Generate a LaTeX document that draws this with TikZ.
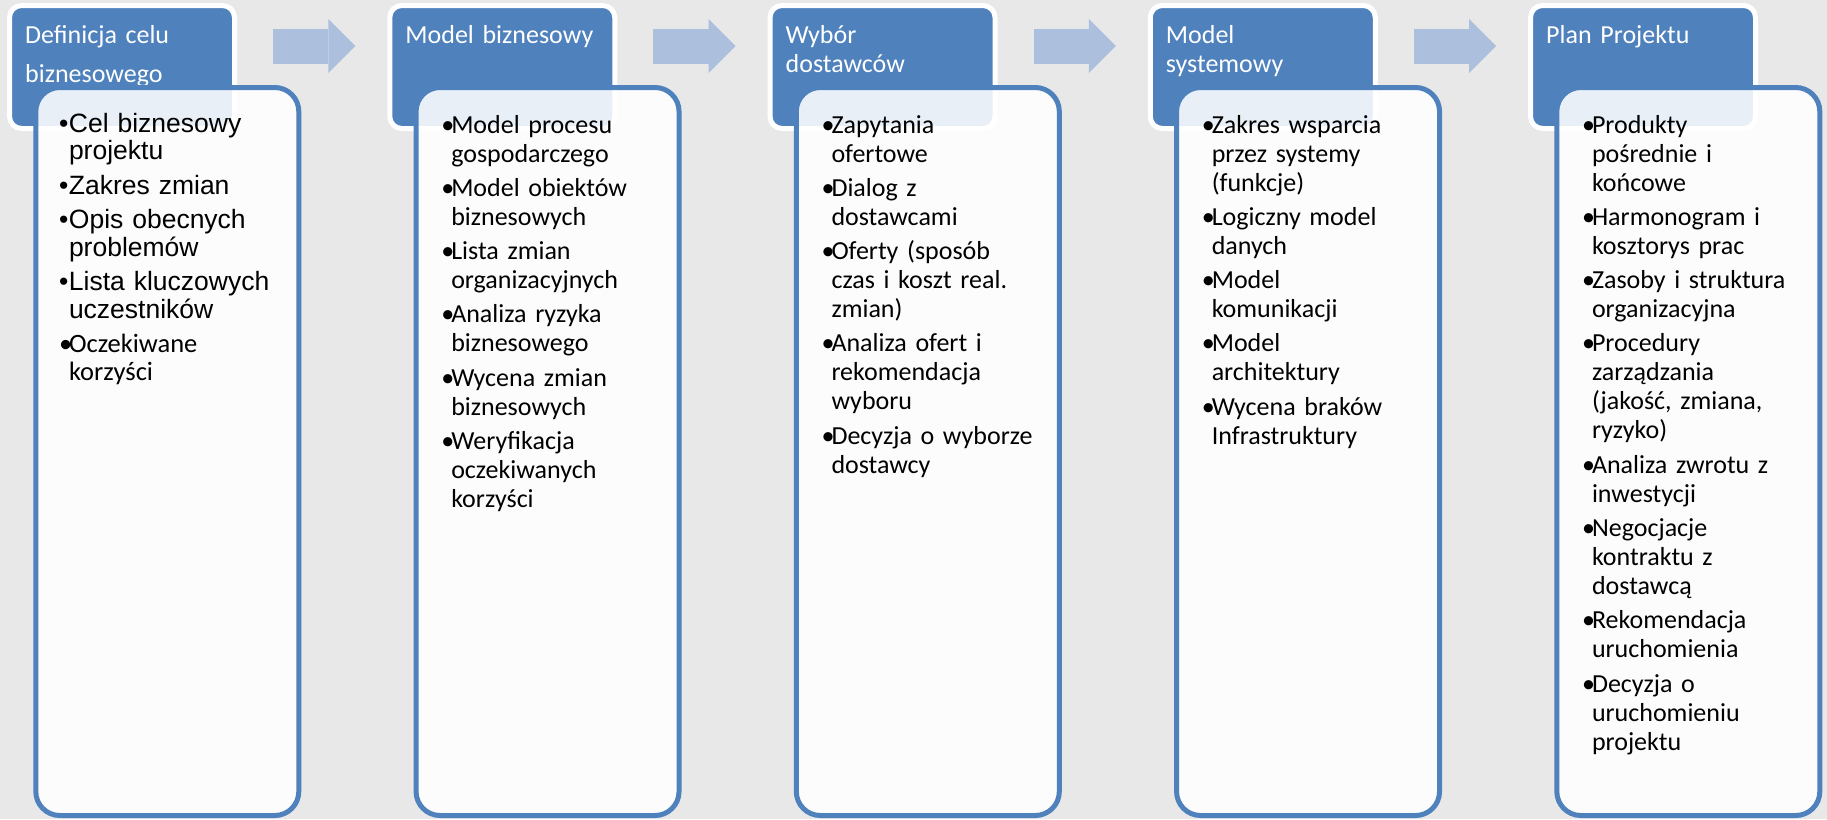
\documentclass[tikz,border=0pt]{standalone}
\usepackage{fontspec}
\setmainfont{Carlito}
\newfontfamily\arialfont{Liberation Sans}
\usepackage{xcolor}
\usepackage{tikz}
\usetikzlibrary{positioning,arrows.meta}
\definecolor{niebieski}{RGB}{79,129,189}
\definecolor{pijl}{RGB}{172,191,221}
\definecolor{tlo}{RGB}{232,232,232}
\newcommand{\kropka}{\makebox[10pt][l]{\textbullet}}
\newcommand{\wc}{\hspace*{10pt}}
\tikzset{
  kop/.style={draw=white, line width=5pt, fill=niebieski, rounded corners=12pt,
              minimum width=225pt, minimum height=123pt, inner sep=0pt, outer sep=0pt},
  tytul/.style={anchor=base west, inner sep=0pt, text=white, text width=205pt,
                align=left, font=\fontsize{26}{29}\selectfont},
  karta/.style={draw=niebieski, line width=5pt, fill=white, fill opacity=0.88,
                rounded corners=24pt, minimum width=263pt, minimum height=728pt,
                inner sep=0pt, outer sep=0pt},
  punkty/.style={anchor=base west, inner sep=0pt, text width=230pt, align=left,
                 font=\fontsize{26}{29}\selectfont},
  strzalka/.style={draw=pijl, line width=35pt,
                   -{Triangle[length=27pt, width=54pt, line width=0pt]}},
}

\begin{document}
\begin{tikzpicture}[x=1pt, y=1pt, node distance=155.25pt]
  \useasboundingbox (0,0) rectangle (1827,-819);
  \fill[tlo] (0,0) rectangle (1827,-819);

  % naglowki etapow
  \node[kop, anchor=north west] (H1) at (9.5,-5.5) {};
  \node[kop, right=of H1] (H2) {};
  \node[kop, right=of H2] (H3) {};
  \node[kop, right=of H3] (H4) {};
  \node[kop, right=of H4] (H5) {};

  \node[tytul] (T1) at ([shift={(15.5,-37.5)}]H1.north west) {Definicja celu\\[10pt]biznesowego};
  \node[tytul] (T2) at ([shift={(15.5,-37.5)}]H2.north west) {Model biznesowy};
  \node[tytul] (T3) at ([shift={(15.5,-37.5)}]H3.north west) {Wybór\\dostawców};
  \node[tytul] (T4) at ([shift={(15.5,-37.5)}]H4.north west) {Model\\systemowy};
  \node[tytul] (T5) at ([shift={(15.5,-37.5)}]H5.north west) {Plan Projektu};

  \draw[strzalka] ([shift={(38.5,21)}]H1.east) -- ([shift={(-34.5,21)}]H2.west);
  \draw[strzalka] ([shift={(38.5,21)}]H2.east) -- ([shift={(-34.5,21)}]H3.west);
  \draw[strzalka] ([shift={(38.5,21)}]H3.east) -- ([shift={(-34.5,21)}]H4.west);
  \draw[strzalka] ([shift={(38.5,21)}]H4.east) -- ([shift={(-34.5,21)}]H5.west);

  % karty z zadaniami
  \node[karta, anchor=north west] (B1) at ([shift={(26.3,-82)}]H1.north west) {};
  \node[karta, anchor=north west] (B2) at ([shift={(26.3,-82)}]H2.north west) {};
  \node[karta, anchor=north west] (B3) at ([shift={(26.3,-82)}]H3.north west) {};
  \node[karta, anchor=north west] (B4) at ([shift={(26.3,-82)}]H4.north west) {};
  \node[karta, anchor=north west] (B5) at ([shift={(26.3,-82)}]H5.north west) {};

  \node[punkty, font=\arialfont\fontsize{26.5}{27.5}\selectfont] (P1)
       at ([shift={(23,-44.5)}]B1.north west)
       {\kropka Cel biznesowy\\\wc projektu\\[7pt]
        \kropka Zakres zmian\\[7pt]
        \kropka Opis obecnych\\\wc problemów\\[7pt]
        \kropka Lista kluczowych\\\wc uczestników\\[7pt]
        \normalfont\kropka Oczekiwane\\\wc korzyści};
  \node[punkty] (P2) at ([shift={(25,-45.5)}]B2.north west)
       {\kropka Model procesu\\\wc gospodarczego\\[5.3pt]
        \kropka Model obiektów\\\wc biznesowych\\[5.3pt]
        \kropka Lista zmian\\\wc organizacyjnych\\[5.3pt]
        \kropka Analiza ryzyka\\\wc biznesowego\\[5.3pt]
        \kropka Wycena zmian\\\wc biznesowych\\[5.3pt]
        \kropka Weryfikacja\\\wc oczekiwanych\\\wc korzyści};
  \node[punkty] (P3) at ([shift={(25,-45.5)}]B3.north west)
       {\kropka Zapytania\\\wc ofertowe\\[5.3pt]
        \kropka Dialog z\\\wc dostawcami\\[5.3pt]
        \kropka Oferty (sposób\\\wc czas i koszt real.\\\wc zmian)\\[5.3pt]
        \kropka Analiza ofert i\\\wc rekomendacja\\\wc wyboru\\[5.3pt]
        \kropka Decyzja o wyborze\\\wc dostawcy};
  \node[punkty] (P4) at ([shift={(25,-45.5)}]B4.north west)
       {\kropka Zakres wsparcia\\\wc przez systemy\\\wc (funkcje)\\[5.3pt]
        \kropka Logiczny model\\\wc danych\\[5.3pt]
        \kropka Model\\\wc komunikacji\\[5.3pt]
        \kropka Model\\\wc architektury\\[5.3pt]
        \kropka Wycena braków\\\wc Infrastruktury};
  \node[punkty] (P5) at ([shift={(25,-45.5)}]B5.north west)
       {\kropka Produkty\\\wc pośrednie i\\\wc końcowe\\[5.3pt]
        \kropka Harmonogram i\\\wc kosztorys prac\\[5.3pt]
        \kropka Zasoby i struktura\\\wc organizacyjna\\[5.3pt]
        \kropka Procedury\\\wc zarządzania\\\wc (jakość, zmiana,\\\wc ryzyko)\\[5.3pt]
        \kropka Analiza zwrotu z\\\wc inwestycji\\[5.3pt]
        \kropka Negocjacje\\\wc kontraktu z\\\wc dostawcą\\[5.3pt]
        \kropka Rekomendacja\\\wc uruchomienia\\[5.3pt]
        \kropka Decyzja o\\\wc uruchomieniu\\\wc projektu};
\end{tikzpicture}
\end{document}
